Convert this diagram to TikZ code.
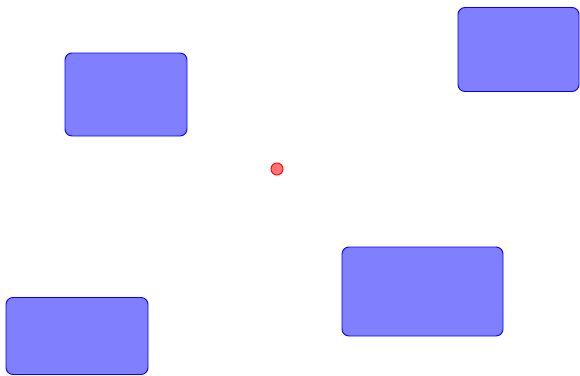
\documentclass[tikz,border=0pt]{standalone}
\usepackage{tikz}

\begin{document}
\begin{tikzpicture}[x=1pt,y=-1pt,
    box/.style={draw=blue, fill=blue!50, rounded corners=7pt, line width=0.9pt, inner sep=0pt},
    dot/.style={circle, draw=red, fill=red!55, line width=0.9pt, minimum size=12pt, inner sep=0pt}]
    \useasboundingbox (0,0) rectangle (580,375);
	\node[box, minimum width=122pt, minimum height=83pt] (boxA) at (126,94.5) {};
	\node[box, minimum width=121pt, minimum height=84pt] (boxB) at (518.5,49.5) {};
	\node[box, minimum width=161pt, minimum height=89pt] (boxC) at (422.5,291.5) {};
	\node[box, minimum width=142pt, minimum height=77pt] (boxD) at (77,336) {};
	\node[dot] (centre) at (277,169) {};
\end{tikzpicture}
\end{document}
